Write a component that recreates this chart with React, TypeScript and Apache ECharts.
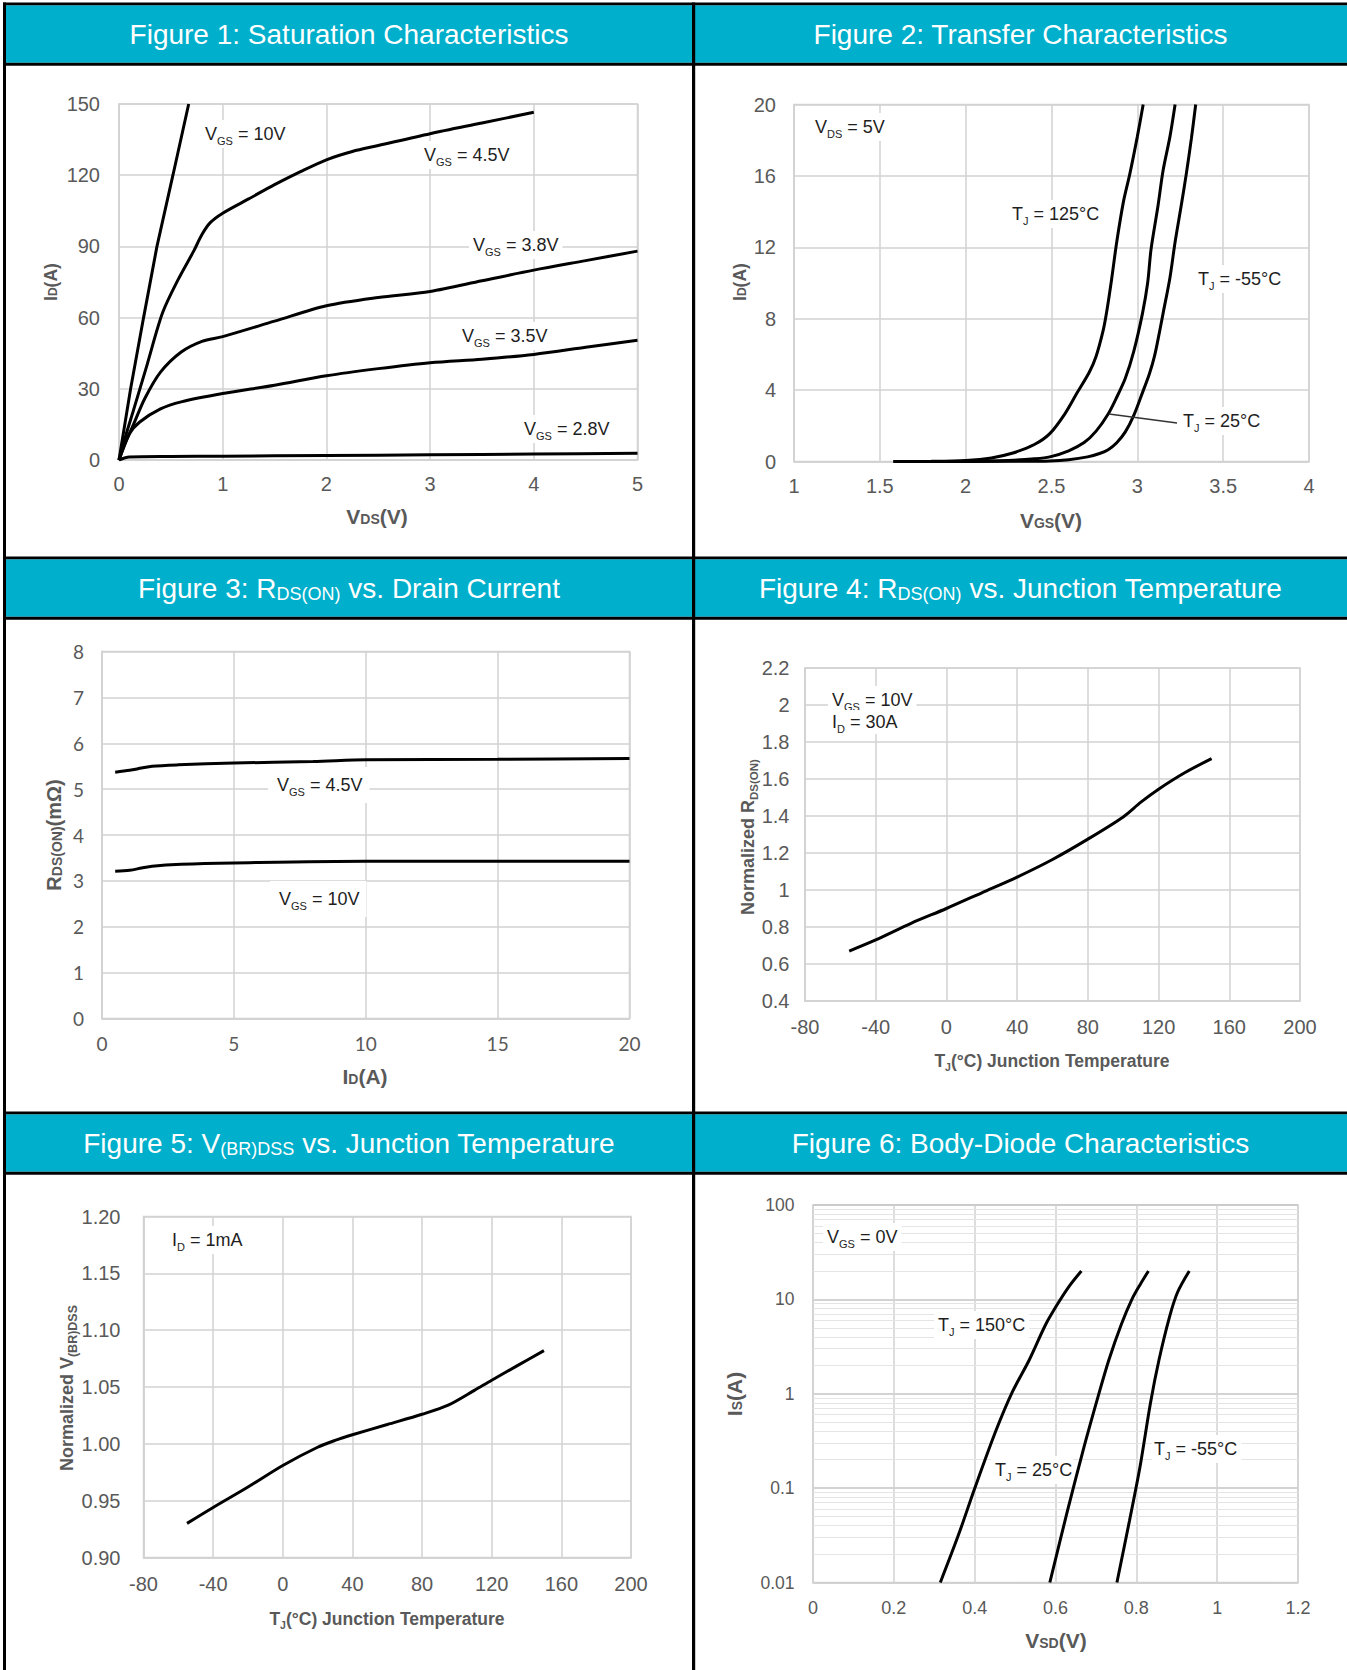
import React, { useEffect, useRef } from 'react';
import * as echarts from 'echarts';

const FONT = "'Liberation Sans', Arial, Helvetica, sans-serif";
const TEAL = '#00AFCB';
const GRID_C = '#d2d2d2';
const LABEL_C = '#595959';
const INK = '#1e1e1e';

// ---------- Figure 1: Saturation characteristics (VDS V, ID A) ----------
const fig1Vgs10: number[][] = [[0, 0], [0.112, 30], [0.237, 60], [0.366, 90], [0.52, 120], [0.672, 150]];
const fig1Vgs45: number[][] = [[0, 0], [0.07, 11], [0.14, 21], [0.27, 40], [0.42, 62], [0.57, 76], [0.72, 88], [0.8, 95], [0.88, 100], [1.0, 104], [1.25, 110], [1.5, 116], [1.75, 121.5], [2.0, 126.5], [2.25, 130], [2.5, 132.5], [3.0, 137.5], [3.5, 142], [4.0, 146.5]];
const fig1Vgs38: number[][] = [[0, 0], [0.07, 8], [0.14, 15], [0.25, 26], [0.4, 37], [0.6, 45.5], [0.8, 50], [1.0, 52], [1.5, 58.5], [2.0, 65], [2.5, 68.5], [3.0, 71], [3.5, 75.5], [4.0, 80], [4.5, 84], [5, 88]];
const fig1Vgs35: number[][] = [[0, 0], [0.1, 11], [0.2, 16], [0.4, 21.5], [0.6, 24.5], [1.0, 28], [1.5, 31.5], [2.0, 35.5], [2.5, 38.5], [3.0, 41], [3.5, 42.5], [4.0, 44.5], [4.5, 47.5], [5, 50.5]];
const fig1Vgs28: number[][] = [[0, 0], [0.1, 1.3], [0.5, 1.5], [1, 1.6], [2, 1.9], [3, 2.2], [4, 2.5], [5, 2.8]];

// ---------- Figure 2: Transfer characteristics (VGS V, ID A) ----------
const fig2T125: number[][] = [[1.58, 0], [1.8, 0.01], [2.0, 0.06], [2.15, 0.2], [2.27, 0.46], [2.4, 0.95], [2.49, 1.56], [2.58, 2.7], [2.65, 3.86], [2.72, 5], [2.76, 5.9], [2.8, 7.3], [2.82, 8.3], [2.85, 10.2], [2.88, 12.3], [2.92, 14.6], [2.956, 16.1], [3.0, 18.2], [3.034, 20]];
const fig2T25: number[][] = [[1.58, 0], [2.0, 0.01], [2.25, 0.06], [2.4, 0.15], [2.49, 0.26], [2.6, 0.6], [2.69, 1.06], [2.76, 1.7], [2.83, 2.66], [2.88, 3.6], [2.93, 4.66], [2.98, 6.2], [3.03, 8.3], [3.06, 10], [3.08, 11.9], [3.12, 14.3], [3.15, 16.3], [3.19, 18.2], [3.22, 20]];
const fig2Tm55: number[][] = [[1.58, 0], [2.3, 0.01], [2.49, 0.03], [2.6, 0.1], [2.71, 0.26], [2.78, 0.45], [2.83, 0.66], [2.88, 1.05], [2.93, 1.66], [2.98, 2.6], [3.03, 3.86], [3.07, 4.9], [3.1, 5.9], [3.13, 7.3], [3.15, 8.3], [3.19, 10.3], [3.22, 12.3], [3.255, 14.3], [3.285, 16.1], [3.315, 18.1], [3.34, 20]];

// ---------- Figure 3: RDS(ON) vs drain current (ID A, mOhm) ----------
const fig3Vgs45: number[][] = [[0.5, 5.37], [1.05, 5.41], [1.5, 5.46], [1.9, 5.5], [2.9, 5.53], [5, 5.57], [8, 5.6], [10, 5.64], [15, 5.65], [20, 5.67]];
const fig3Vgs10: number[][] = [[0.5, 3.21], [1.05, 3.23], [1.5, 3.28], [1.9, 3.32], [3, 3.36], [5, 3.39], [10, 3.43], [15, 3.43], [20, 3.43]];

// ---------- Figure 4: normalized RDS(ON) vs TJ ----------
const fig4Rds: number[][] = [[-55, 0.67], [-40, 0.73], [-20, 0.82], [0, 0.9], [20, 0.985], [40, 1.07], [60, 1.165], [80, 1.275], [100, 1.395], [110, 1.475], [120, 1.545], [135, 1.635], [150, 1.71]];

// ---------- Figure 5: normalized V(BR)DSS vs TJ ----------
const fig5Vbr: number[][] = [[-55, 0.93], [-40, 0.944], [-20, 0.962], [0, 0.981], [20, 0.997], [30, 1.003], [40, 1.008], [60, 1.017], [80, 1.026], [95, 1.034], [110, 1.047], [120, 1.056], [135, 1.069], [150, 1.082]];

// ---------- Figure 6: body diode (VSD V, IS A, log) ----------
const fig6T150: number[][] = [[0.315, 0.01], [0.36, 0.032], [0.4, 0.099], [0.452, 0.4], [0.493, 1.04], [0.535, 2.28], [0.576, 5.45], [0.607, 9.2], [0.635, 14], [0.664, 20]];
const fig6T25: number[][] = [[0.586, 0.01], [0.628, 0.054], [0.669, 0.258], [0.706, 0.955], [0.732, 2.28], [0.763, 5.45], [0.789, 10], [0.81, 14.5], [0.83, 20]];
const fig6Tm55: number[][] = [[0.752, 0.01], [0.783, 0.045], [0.809, 0.167], [0.835, 0.8], [0.856, 2.28], [0.882, 6.5], [0.902, 11.9], [0.931, 20]];
const fig6MinorGrid: number[] = [0.02, 0.03, 0.04, 0.05, 0.06, 0.07, 0.08, 0.09, 0.2, 0.3, 0.4, 0.5, 0.6, 0.7, 0.8, 0.9, 2, 3, 4, 5, 6, 7, 8, 9, 20, 30, 40, 50, 60, 70, 80, 90];

const rt = (segs: string[][]) => segs.map(([k, t]) => `{${k}|${t}}`).join('');

function titleText(cx: number, cy: number, segs: string[][]) {
  return {
    type: 'text', x: cx, y: cy, z: 10,
    style: {
      text: rt(segs), align: 'center', verticalAlign: 'middle', fill: '#fff', fontFamily: FONT, fontSize: 28,
      rich: {
        m: { fontSize: 28, lineHeight: 34, fill: '#fff', fontFamily: FONT },
        s: { fontSize: 18, height: 22, verticalAlign: 'bottom', fill: '#fff', fontFamily: FONT },
      },
    },
  };
}

function axisTitle(cx: number, cy: number, segs: string[][], F: number, S: number, subH: number, rotate = false) {
  const L = Math.round(F * 1.25);
  return {
    type: 'text', x: cx, y: cy, rotation: rotate ? Math.PI / 2 : 0, z: 10,
    style: {
      text: rt(segs), align: 'center', verticalAlign: 'middle', fill: LABEL_C, fontFamily: FONT, fontWeight: 'bold', fontSize: F,
      rich: {
        m: { fontSize: F, lineHeight: L, fill: LABEL_C, fontFamily: FONT, fontWeight: 'bold' },
        s: { fontSize: S, height: subH, verticalAlign: 'bottom', fill: LABEL_C, fontFamily: FONT, fontWeight: 'bold' },
      },
    },
  };
}

function ann(left: number, cy: number, segs: string[][], pad: number[] = [3, 4, 3, 4]) {
  return {
    type: 'text', x: left - pad[3], y: cy, z: 3,
    style: {
      text: rt(segs), align: 'left', verticalAlign: 'middle', fill: INK, fontFamily: FONT, fontSize: 18,
      backgroundColor: '#fff', padding: pad,
      rich: {
        m: { fontSize: 18, lineHeight: 22, fill: INK, fontFamily: FONT },
        s: { fontSize: 11, height: 9, verticalAlign: 'bottom', fill: INK, fontFamily: FONT },
      },
    },
  };
}

function rect(x: number, y: number, w: number, h: number, fill: string, z = 8) {
  return { type: 'rect', z, shape: { x, y, width: w, height: h }, style: { fill } };
}

function valAxis(gi: number, min: number, max: number, interval: number, fontSize: number, margin: number, extra: any = {}) {
  return {
    type: 'value', gridIndex: gi, min, max, interval,
    axisLine: { show: true, onZero: false, lineStyle: { color: GRID_C, width: 1.5 } },
    axisTick: { show: false },
    splitLine: { show: true, lineStyle: { color: GRID_C, width: 1.5 } },
    axisLabel: { fontSize, color: LABEL_C, margin, fontFamily: FONT, ...(extra.axisLabel || {}) },
  };
}

function curve(gi: number, data: number[][], smooth: number | boolean = 0.3) {
  return {
    type: 'line', xAxisIndex: gi, yAxisIndex: gi, data, showSymbol: false, symbol: 'none',
    smooth, z: 4, silent: true,
    lineStyle: { color: '#000', width: 3 },
  };
}

function buildOption() {
  const rowTops = [2.5, 556.5, 1111.5];
  const colL = 349;
  const colR = 1020.5;
  const graphic: any[] = [];
  graphic.push(rect(0, 0, 1347, 1670, '#fff', -10));
  rowTops.forEach((T) => {
    graphic.push(rect(4, T + 2.8, 1343, 57.5, TEAL, 8));
    graphic.push(rect(3, T, 1344, 2.8, '#000', 9));
    graphic.push(rect(3, T + 60.3, 1344, 3, '#000', 9));
  });
  graphic.push(rect(3, 2.5, 3, 1667.5, '#000', 9));
  graphic.push(rect(692, 2.5, 3.2, 1667.5, '#000', 9));

  graphic.push(titleText(colL, rowTops[0] + 31.5, [['m', 'Figure 1: Saturation Characteristics']]));
  graphic.push(titleText(colR, rowTops[0] + 31.5, [['m', 'Figure 2: Transfer Characteristics']]));
  graphic.push(titleText(colL, rowTops[1] + 31.5, [['m', 'Figure 3: R'], ['s', 'DS(ON)'], ['m', ' vs. Drain Current']]));
  graphic.push(titleText(colR, rowTops[1] + 31.5, [['m', 'Figure 4: R'], ['s', 'DS(ON)'], ['m', ' vs. Junction Temperature']]));
  graphic.push(titleText(colL, rowTops[2] + 31.5, [['m', 'Figure 5: V'], ['s', '(BR)DSS'], ['m', ' vs. Junction Temperature']]));
  graphic.push(titleText(colR, rowTops[2] + 31.5, [['m', 'Figure 6: Body-Diode Characteristics']]));

  graphic.push(axisTitle(377, 516, [['m', 'V'], ['s', 'DS'], ['m', '(V)']], 21, 14, 21));
  graphic.push(axisTitle(51, 282, [['m', 'I'], ['s', 'D'], ['m', '(A)']], 17.5, 12, 18, true));
  graphic.push(axisTitle(1051, 520, [['m', 'V'], ['s', 'GS'], ['m', '(V)']], 21, 14, 21));
  graphic.push(axisTitle(740, 282, [['m', 'I'], ['s', 'D'], ['m', '(A)']], 17.5, 12, 18, true));
  graphic.push(axisTitle(365, 1076, [['m', 'I'], ['s', 'D'], ['m', '(A)']], 21, 14, 21));
  graphic.push(axisTitle(54, 835, [['m', 'R'], ['s', 'DS(ON)'], ['m', '(mΩ)']], 20, 14, 20, true));
  graphic.push(axisTitle(1052, 1061, [['m', 'T'], ['s', 'J'], ['m', '(°C) Junction Temperature']], 17.5, 10.5, 11));
  graphic.push(axisTitle(748, 837, [['m', 'Normalized R'], ['s', 'DS(ON)']], 18, 11.5, 11.5, true));
  graphic.push(axisTitle(387, 1619, [['m', 'T'], ['s', 'J'], ['m', '(°C) Junction Temperature']], 17.5, 10.5, 11));
  graphic.push(axisTitle(67, 1388, [['m', 'Normalized V'], ['s', '(BR)DSS']], 18, 12.5, 11.5, true));
  graphic.push(axisTitle(1056, 1640, [['m', 'V'], ['s', 'SD'], ['m', '(V)']], 21, 14, 21));
  graphic.push(axisTitle(734, 1394, [['m', 'I'], ['s', 'S'], ['m', '(A)']], 21, 14, 21, true));

  graphic.push(ann(205, 134, [['m', 'V'], ['s', 'GS'], ['m', ' = 10V']]));
  graphic.push(ann(424, 155, [['m', 'V'], ['s', 'GS'], ['m', ' = 4.5V']]));
  graphic.push(ann(473, 245, [['m', 'V'], ['s', 'GS'], ['m', ' = 3.8V']]));
  graphic.push(ann(462, 336, [['m', 'V'], ['s', 'GS'], ['m', ' = 3.5V']]));
  graphic.push(ann(524, 429, [['m', 'V'], ['s', 'GS'], ['m', ' = 2.8V']]));

  graphic.push(ann(815, 127, [['m', 'V'], ['s', 'DS'], ['m', ' = 5V']]));
  graphic.push(ann(1012, 214, [['m', 'T'], ['s', 'J'], ['m', ' = 125°C']]));
  graphic.push(ann(1198, 279, [['m', 'T'], ['s', 'J'], ['m', ' = -55°C']]));
  graphic.push(ann(1183, 421, [['m', 'T'], ['s', 'J'], ['m', ' = 25°C']]));
  graphic.push({ type: 'line', z: 5, shape: { x1: 1109, y1: 414, x2: 1177, y2: 423 }, style: { stroke: '#333', lineWidth: 1.3 } });

  graphic.push(ann(277, 785, [['m', 'V'], ['s', 'GS'], ['m', ' = 4.5V']], [7, 7, 7, 9]));
  graphic.push(ann(279, 899, [['m', 'V'], ['s', 'GS'], ['m', ' = 10V']], [7, 7, 7, 9]));

  graphic.push(ann(832, 700, [['m', 'V'], ['s', 'GS'], ['m', ' = 10V']]));
  graphic.push(ann(832, 722, [['m', 'I'], ['s', 'D'], ['m', ' = 30A']], [1, 4, 1, 4]));

  graphic.push(ann(172, 1240, [['m', 'I'], ['s', 'D'], ['m', ' = 1mA']]));

  graphic.push(ann(827, 1237, [['m', 'V'], ['s', 'GS'], ['m', ' = 0V']]));
  graphic.push(ann(938, 1325, [['m', 'T'], ['s', 'J'], ['m', ' = 150°C']]));
  graphic.push(ann(995, 1470, [['m', 'T'], ['s', 'J'], ['m', ' = 25°C']], [3, 1, 3, 4]));
  graphic.push(ann(1154, 1449, [['m', 'T'], ['s', 'J'], ['m', ' = -55°C']], [3, 4, 3, 2]));

  const grids = [
    { left: 119, top: 104, width: 518.5, height: 356 },
    { left: 794, top: 104.5, width: 515, height: 357 },
    { left: 102, top: 651.5, width: 527.5, height: 367 },
    { left: 805, top: 668, width: 495, height: 333 },
    { left: 143.5, top: 1216.5, width: 487.5, height: 341 },
    { left: 813, top: 1205, width: 485, height: 377.5 },
  ].map((g) => ({ ...g, show: true, borderColor: GRID_C, borderWidth: 1.5, backgroundColor: 'transparent' }));

  const lato = "Lato, 'Liberation Sans', Arial, sans-serif";
  const xAxis = [
    valAxis(0, 0, 5, 1, 20, 14),
    valAxis(1, 1, 4, 0.5, 20, 14),
    valAxis(2, 0, 20, 5, 19, 15, { axisLabel: { fontFamily: lato } }),
    valAxis(3, -80, 200, 40, 20, 16),
    valAxis(4, -80, 200, 40, 20, 16.5),
    valAxis(5, 0, 1.2, 0.2, 18, 16.5),
  ];
  const yAxis: any[] = [
    valAxis(0, 0, 150, 30, 20, 19),
    valAxis(1, 0, 20, 4, 20, 18),
    valAxis(2, 0, 8, 1, 19, 18, { axisLabel: { fontFamily: lato } }),
    valAxis(3, 0.4, 2.2, 0.2, 20, 15.5),
    valAxis(4, 0.9, 1.2, 0.05, 20, 23, { axisLabel: { formatter: (v: number) => v.toFixed(2) } }),
    {
      type: 'log', gridIndex: 5, min: 0.01, max: 100, logBase: 10,
      axisLine: { show: true, onZero: false, lineStyle: { color: GRID_C, width: 1.5 } },
      axisTick: { show: false },
      splitLine: { show: true, lineStyle: { color: '#c4c4c4', width: 1.5 } },
      axisLabel: {
        fontSize: 17.5, color: LABEL_C, margin: 18.5, fontFamily: FONT,
        formatter: (v: number) => {
          const e = Math.round(Math.log10(v));
          return e < 0 ? Math.pow(10, e).toFixed(-e) : String(Math.pow(10, e));
        },
      },
    },
  ];

  const series: any[] = [
    curve(0, fig1Vgs10, false),
    curve(0, fig1Vgs45),
    curve(0, fig1Vgs38),
    curve(0, fig1Vgs35),
    curve(0, fig1Vgs28),
    curve(1, fig2T125),
    curve(1, fig2T25),
    curve(1, fig2Tm55),
    curve(2, fig3Vgs45),
    curve(2, fig3Vgs10),
    curve(3, fig4Rds),
    curve(4, fig5Vbr),
    curve(5, fig6T150),
    curve(5, fig6T25),
    curve(5, fig6Tm55),
    {
      type: 'line', xAxisIndex: 5, yAxisIndex: 5, data: [], z: 1, silent: true,
      markLine: {
        silent: true, z: 1, symbol: ['none', 'none'], label: { show: false },
        lineStyle: { color: '#e4e4e4', width: 1.2, type: 'solid' },
        emphasis: { disabled: true },
        data: fig6MinorGrid.map((v) => ({ yAxis: v })),
      },
    },
  ];

  return {
    animation: false,
    backgroundColor: '#fff',
    textStyle: { fontFamily: FONT },
    grid: grids,
    xAxis,
    yAxis,
    series,
    graphic: { elements: graphic },
  };
}

export default function App() {
  const ref = useRef<HTMLDivElement>(null);
  useEffect(() => {
    document.body.style.margin = '0';
    const chart = echarts.init(ref.current as HTMLDivElement, null, { renderer: 'svg' });
    chart.setOption(buildOption() as any);
    return () => chart.dispose();
  }, []);
  return <div ref={ref} style={{ width: 1347, height: 1670 }} />;
}
